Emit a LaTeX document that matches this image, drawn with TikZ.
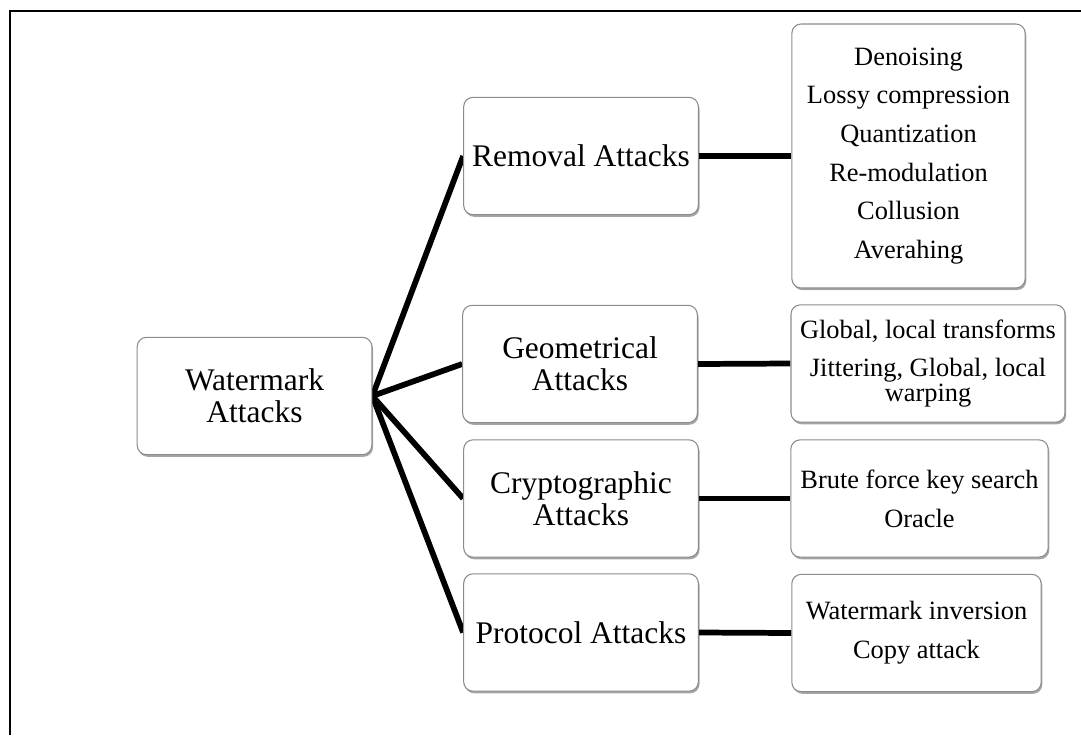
\documentclass[tikz,border=0pt]{standalone}
\usepackage{fontspec}
\setmainfont{Liberation Serif}
\usetikzlibrary{backgrounds, shadows}
\definecolor{boxline}{RGB}{140, 140, 140}
\definecolor{linkcol}{RGB}{0, 0, 0}
\tikzset{
  blk/.style    = {draw=boxline, fill=white, rounded corners=7pt, align=center,
                   inner sep=2pt, line width=0.8pt,
                   drop shadow={shadow xshift=0.9pt, shadow yshift=-1.6pt,
                                opacity=0.35, fill=black}},
  topic/.style  = {blk, font=\fontsize{23.6}{24}\selectfont,
                   minimum width=176pt, minimum height=88pt},
  detail/.style = {blk, font=\fontsize{19.8}{29}\selectfont,
                   minimum height=88pt},
  link/.style   = {draw=linkcol, line width=4.3pt},
}
\begin{document}
\begin{tikzpicture}[x=0.75pt, y=-0.75pt]
  \useasboundingbox (0,0) rectangle (1081,735);

  %% ---------------- frame ----------------
  \draw[line width=1.8pt] (10,735) -- (10,11) -- (1081,11);

  %% ---------------- root ----------------
  \node[topic] (wm) at (254.5,396) {Watermark\\Attacks};

  %% ---------------- the four kinds ----------------
  \node[topic] (rem) at (581,156)   {Removal Attacks};
  \node[topic] (geo) at (580,364)   {Geometrical\\Attacks};
  \node[topic] (cry) at (581,498.5) {Cryptographic\\Attacks};
  \node[topic] (pro) at (581,632.5) {Protocol Attacks};

  %% ---------------- what each kind covers ----------------
  \node[detail, minimum width=175pt, minimum height=198pt] (remlist)
       at (908.5,156)
       {Denoising\\Lossy compression\\Quantization\\Re-modulation\\
        Collusion\\Averahing};
  \node[detail, minimum width=205.5pt] (geolist) at (928,363.5)
       {Global, local transforms\\Jittering, Global, local\\[-10.4pt]warping};
  \node[detail, minimum width=193pt] (crylist) at (919.5,498.5)
       {Brute force key search\\Oracle};
  \node[detail, minimum width=187pt] (prolist) at (916.5,633)
       {Watermark inversion\\Copy attack};

  %% ---------------- connectors ----------------
  \begin{scope}[on background layer]
    \foreach \k in {rem, geo, cry, pro} {
      \draw[link] (wm.east) -- (\k.west);
      \draw[link] (\k.east) -- (\k list.west);
    }
  \end{scope}

\end{tikzpicture}
\end{document}
